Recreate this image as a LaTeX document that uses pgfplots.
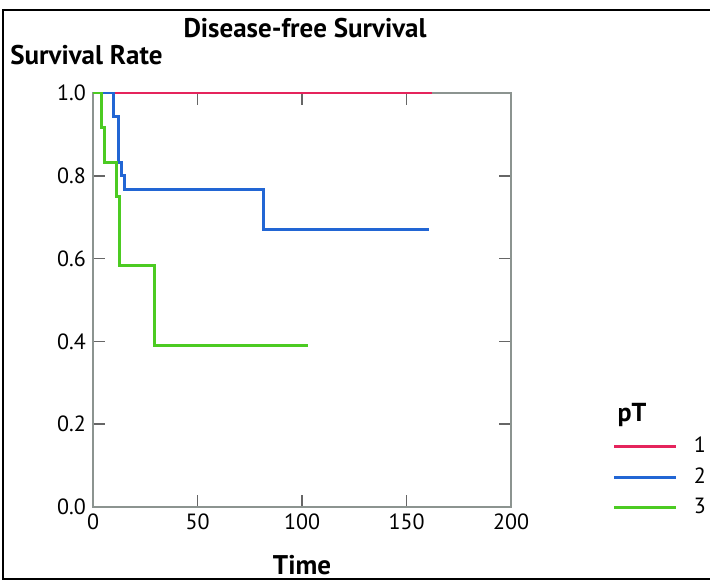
\documentclass[border=0pt]{standalone}
\usepackage{fontspec}
\setmainfont{PT Sans}
\usepackage{pgfplots}
\pgfplotsset{compat=1.18}
\definecolor{c1}{HTML}{E5245C}
\definecolor{c2}{HTML}{2266D4}
\definecolor{c3}{HTML}{4CCB22}
\definecolor{axgray}{HTML}{8C9490}

\begin{document}
\begin{tikzpicture}
% page = 710x581 px at 0.5pt per px
\useasboundingbox (0pt,0pt) rectangle (355pt,290.5pt);
\draw[black, line width=1pt] (1.5pt,1pt) rectangle (365pt,285.5pt);
\begin{axis}[
    at={(46.5pt,37pt)}, anchor=south west,
    scale only axis, width=209pt, height=207pt,
    xmin=0, xmax=200, ymin=0, ymax=1,
    xtick={0,50,100,150,200},
    ytick={0,0.2,0.4,0.6,0.8,1},
    /pgf/number format/assume math mode=true,
    yticklabel style={/pgf/number format/.cd, fixed, fixed zerofill, precision=1},
    ticklabel style={font=\fontsize{11}{13}\selectfont},
    axis line style={axgray, line width=1pt},
    tick style={black!60, line width=0.8pt},
    major tick length=6pt,
    tick align=inside,
    legend style={at={(1.243,0.0725)}, anchor=west, draw=none, fill=none,
        inner sep=0pt, row sep=2pt, font=\fontsize{11}{13}\selectfont,
        /tikz/every odd column/.append style={column sep=6pt}},
    legend cell align=left,
    legend image code/.code={\draw[#1] (0pt,0pt) -- (31pt,0pt);},
]
\addplot[c1, line width=1.5pt, const plot] coordinates {(0,1) (162,1)};
\addlegendentry{1}
\addplot[c2, line width=1.5pt, const plot] coordinates {
    (0,1) (9.6,0.944) (12.4,0.833) (13.7,0.80) (15,0.767) (81.5,0.67) (161,0.67)};
\addlegendentry{2}
\addplot[c3, line width=1.5pt, const plot] coordinates {
    (0,1) (4.1,0.917) (5.4,0.833) (11.3,0.75) (12.9,0.583) (29.2,0.389) (103,0.389)};
\addlegendentry{3}
\end{axis}
\node[font=\bfseries\fontsize{13.5}{15}\selectfont] at (152.5pt,276.5pt) {Disease-free Survival};
\node[font=\bfseries\fontsize{13.5}{15}\selectfont, anchor=west, inner sep=0pt] at (5pt,263pt) {Survival Rate};
\node[font=\bfseries\fontsize{13.5}{15}\selectfont, anchor=base] at (151pt,3pt) {Time};
\node[font=\bfseries\fontsize{13}{15}\selectfont] at (316pt,83pt) {pT};
\end{tikzpicture}
\end{document}
